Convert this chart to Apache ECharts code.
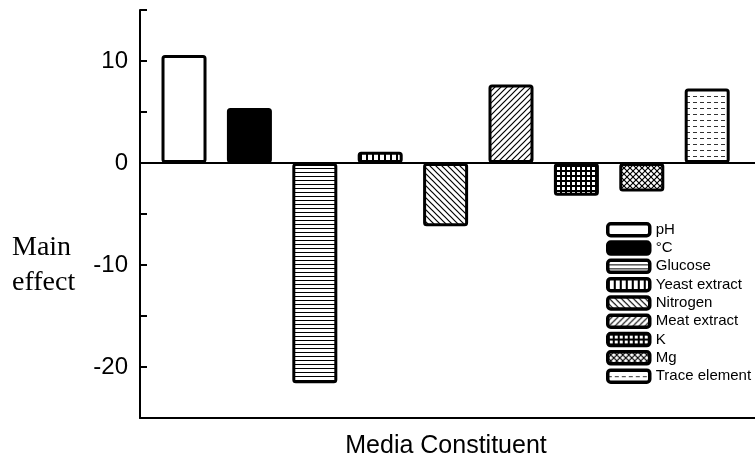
<!DOCTYPE html>
<html>
<head>
<meta charset="utf-8">
<script src="https://cdn.jsdelivr.net/npm/echarts@6/dist/echarts.min.js"></script>
<style>
html,body{margin:0;padding:0;background:#fff;}
#chart{width:755px;height:458px;}
</style>
</head>
<body>
<div id="chart"></div>
<script>
// ---- data ----
const categories = ['pH', '°C', 'Glucose', 'Yeast extract', 'Nitrogen', 'Meat extract', 'K', 'Mg', 'Trace element'];
const mainEffects = [10.6, 5.4, -21.6, 1.1, -6.2, 7.7, -3.2, -2.8, 7.3];
const yTicks = [-20, -10, 0, 10];
const xTitle = 'Media Constituent';
const yTitle = 'Main\neffect';

// ---- fill patterns ----
function pat(w, h, draw) {
  const c = document.createElement('canvas');
  c.width = w; c.height = h;
  const ctx = c.getContext('2d');
  ctx.fillStyle = '#fff';
  ctx.fillRect(0, 0, w, h);
  ctx.fillStyle = '#000';
  ctx.strokeStyle = '#000';
  draw(ctx, w, h);
  return { image: c, repeat: 'repeat' };
}
function diag(ctx, s, dir) {
  ctx.lineWidth = 1.2;
  ctx.beginPath();
  if (dir > 0) { // "/"
    ctx.moveTo(-1, s + 1); ctx.lineTo(s + 1, -1);
    ctx.moveTo(-1, 1); ctx.lineTo(1, -1);
    ctx.moveTo(s - 1, s + 1); ctx.lineTo(s + 1, s - 1);
  } else { // "\"
    ctx.moveTo(-1, -1); ctx.lineTo(s + 1, s + 1);
    ctx.moveTo(s - 1, -1); ctx.lineTo(s + 1, 1);
    ctx.moveTo(-1, s - 1); ctx.lineTo(1, s + 1);
  }
  ctx.stroke();
}
const fills = [
  '#ffffff',
  '#000000',
  pat(4, 4, (ctx) => { ctx.fillRect(0, 0, 4, 1); }),
  pat(6, 6, (ctx) => { ctx.fillRect(0, 0, 2, 6); }),
  pat(6, 6, (ctx) => diag(ctx, 6, -1)),
  pat(6, 6, (ctx) => diag(ctx, 6, 1)),
  pat(5, 5, (ctx) => { ctx.fillRect(0, 0, 5, 2); ctx.fillRect(0, 0, 2, 5); }),
  pat(6, 6, (ctx) => { diag(ctx, 6, 1); diag(ctx, 6, -1); }),
  pat(7, 6, (ctx) => { ctx.fillStyle = '#333'; ctx.fillRect(0, 0, 4, 1); })
];

const series = categories.map((name, i) => ({
  name: name,
  type: 'bar',
  barWidth: 45,
  barGap: '-100%',
  data: [[i, mainEffects[i]]],
  itemStyle: {
    color: fills[i],
    borderColor: '#000',
    borderWidth: 3,
    borderRadius: 2
  },
  markLine: i === 0 ? {
    silent: true,
    symbol: 'none',
    label: { show: false },
    lineStyle: { color: '#000', width: 2, type: 'solid' },
    data: [{ yAxis: 0 }]
  } : undefined
}));

const chart = echarts.init(document.getElementById('chart'), null, { renderer: 'canvas' });
chart.setOption({
  animation: false,
  backgroundColor: '#fff',
  grid: { left: 140, right: 0, top: 10, bottom: 40 },
  xAxis: {
    type: 'value',
    min: -0.673,
    max: 8.731,
    axisLine: { show: true, onZero: false, lineStyle: { color: '#000', width: 2 } },
    axisTick: { show: false },
    axisLabel: { show: false },
    splitLine: { show: false }
  },
  yAxis: {
    type: 'value',
    min: -25,
    max: 15,
    interval: 5,
    axisLine: { show: true, onZero: false, lineStyle: { color: '#000', width: 2 } },
    axisTick: { show: true, inside: true, length: 7, lineStyle: { color: '#000', width: 2 } },
    axisLabel: {
      margin: 12,
      color: '#000',
      fontSize: 24,
      fontFamily: 'Liberation Sans, Arial, sans-serif',
      formatter: (v) => yTicks.indexOf(v) >= 0 ? String(v) : ''
    },
    splitLine: { show: false }
  },
  legend: {
    orient: 'vertical',
    left: 601,
    top: 217,
    itemWidth: 42,
    itemHeight: 12,
    itemGap: 2.8,
    icon: 'roundRect',
    itemStyle: { borderColor: '#000', borderWidth: 3.5 },
    textStyle: { color: '#000', fontSize: 15, lineHeight: 15, fontFamily: 'Liberation Sans, Arial, sans-serif', padding: [0, 0, 0, 1] },
    data: categories
  },
  graphic: [
    {
      type: 'text',
      left: 12,
      top: 230,
      style: {
        text: yTitle,
        font: '28px "Liberation Serif", "Times New Roman", serif',
        lineHeight: 35,
        fill: '#000'
      }
    },
    {
      type: 'text',
      x: 446,
      y: 446,
      style: {
        text: xTitle,
        font: '25px "Liberation Sans", Arial, sans-serif',
        align: 'center',
        verticalAlign: 'middle',
        fill: '#000'
      }
    }
  ],
  series: series
});
</script>
</body>
</html>
